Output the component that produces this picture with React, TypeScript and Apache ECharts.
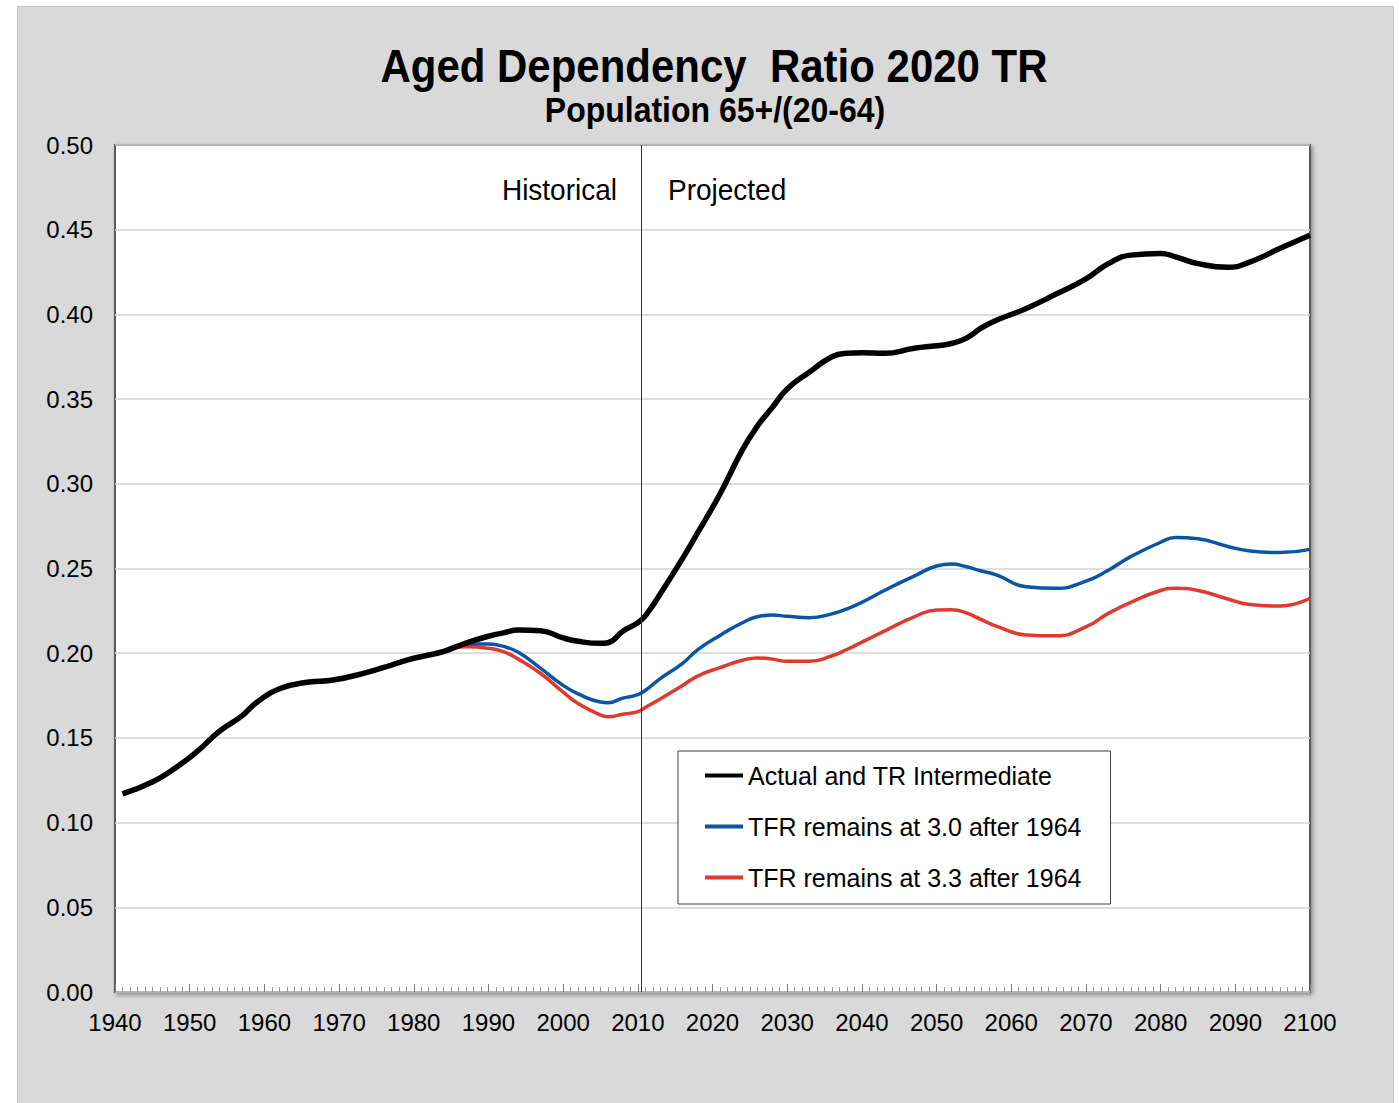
import React, { useEffect, useRef } from "react";
import * as echarts from "echarts";

const years = [
  1941, 1945, 1948, 1951, 1954, 1957, 1959, 1962, 1966, 1969, 1974, 1977, 1980, 1984,
  1987, 1990, 1992, 1994, 1997, 2000, 2002, 2005, 2006, 2008, 2010, 2011, 2013, 2016,
  2018, 2021, 2024, 2026, 2028, 2030, 2033, 2036, 2038, 2040, 2043, 2047, 2050, 2052,
  2054, 2056, 2058, 2062, 2066, 2070, 2073, 2076, 2080, 2082, 2085, 2089, 2092, 2096, 2100,
];

const actualTR = [
  0.117, 0.124, 0.132, 0.142, 0.154, 0.163, 0.171, 0.179, 0.183, 0.184, 0.189, 0.193, 0.197, 0.201,
  0.206, 0.21, 0.212, 0.2137, 0.2133, 0.209, 0.207, 0.2058, 0.2062, 0.213, 0.218, 0.222, 0.235, 0.256,
  0.271, 0.294, 0.32, 0.334, 0.345, 0.356, 0.366, 0.375, 0.377, 0.3773, 0.377, 0.38, 0.3815, 0.3828,
  0.386, 0.392, 0.3965, 0.4035, 0.412, 0.421, 0.43, 0.435, 0.436, 0.434, 0.43, 0.4278, 0.431, 0.439, 0.4467,
];

const tfr30 = [
  null, null, null, null, null, null, null, null, null, null, null, null, null, 0.201,
  0.2055, 0.2054, 0.204, 0.2005, 0.191, 0.181, 0.176, 0.1712, 0.1708, 0.1735, 0.1755, 0.178, 0.185, 0.194,
  0.202, 0.2105, 0.218, 0.2215, 0.2225, 0.2218, 0.221, 0.2232, 0.2262, 0.23, 0.237, 0.2455, 0.2515, 0.2527,
  0.251, 0.2485, 0.2462, 0.2392, 0.2383, 0.2425, 0.249, 0.257, 0.2655, 0.2683, 0.2675, 0.263, 0.2603, 0.2594, 0.2613,
];

const tfr33 = [
  null, null, null, null, null, null, null, null, null, null, null, null, null, 0.201,
  0.2038, 0.2029, 0.2009, 0.1965, 0.188, 0.177, 0.1703, 0.1635, 0.1625, 0.164, 0.1655, 0.168, 0.173, 0.181,
  0.1865, 0.1915, 0.1958, 0.1972, 0.1965, 0.1952, 0.1952, 0.1985, 0.2022, 0.2065, 0.213, 0.2215, 0.2255, 0.2257,
  0.2238, 0.2198, 0.216, 0.2108, 0.2103, 0.2155, 0.2235, 0.23, 0.237, 0.2383, 0.237, 0.232, 0.2287, 0.2278, 0.2324,
];

const seriesNames = [
  "Actual and TR Intermediate",
  "TFR remains at 3.0 after 1964",
  "TFR remains at 3.3 after 1964",
];

const dividerYear = 2010.5;
const FONT = '"Liberation Sans", Arial, Helvetica, sans-serif';

function pairs(vals: (number | null)[]) {
  return years.map((y, i) => [y, vals[i]]);
}

export default function App() {
  const ref = useRef<HTMLDivElement>(null);

  useEffect(() => {
    if (!ref.current) return;
    const chart = echarts.init(ref.current, undefined, { renderer: "svg" });
    chart.setOption({
      animation: false,
      backgroundColor: "transparent",
      textStyle: { fontFamily: FONT },
      grid: {
        left: 115,
        top: 145,
        width: 1195,
        height: 847,
        show: true,
        backgroundColor: "#ffffff",
        borderColor: "#5a5a5a",
        borderWidth: 2,
        shadowColor: "rgba(0,0,0,0.35)",
        shadowBlur: 4,
        shadowOffsetX: 2,
        shadowOffsetY: 2,
      },
      legend: {
        data: seriesNames,
        orient: "vertical",
        left: 678,
        top: 751,
        padding: [12, 29, 14, 27],
        itemGap: 26,
        itemWidth: 38,
        itemHeight: 4,
        icon: "rect",
        backgroundColor: "#ffffff",
        borderColor: "#3f3f3f",
        borderWidth: 1,
        textStyle: { fontFamily: FONT, fontSize: 25, color: "#000000" },
      },
      xAxis: {
        type: "value",
        min: 1940,
        max: 2100,
        interval: 10,
        axisLine: { show: false },
        axisTick: { show: true, inside: true, length: 8, lineStyle: { color: "#7a7a7a", width: 1 } },
        minorTick: { show: true, splitNumber: 10, length: 5, lineStyle: { color: "#9a9a9a", width: 1 } },
        splitLine: { show: false },
        axisLabel: {
          fontFamily: FONT,
          fontSize: 24,
          color: "#000000",
          margin: 18,
          formatter: (v: number) => String(v),
        },
      },
      yAxis: {
        type: "value",
        min: 0,
        max: 0.5,
        interval: 0.05,
        axisLine: { show: false },
        axisTick: { show: false },
        splitLine: { show: true, lineStyle: { color: "#d3d3d3", width: 1.5 } },
        axisLabel: {
          fontFamily: FONT,
          fontSize: 24,
          color: "#000000",
          margin: 22,
          formatter: (v: number) => v.toFixed(2),
        },
      },
      graphic: [
        {
          type: "text",
          x: 714,
          y: 66,
          scaleY: 1.1,
          style: {
            text: "Aged Dependency  Ratio 2020 TR",
            font: `bold 42px ${FONT}`,
            fill: "#000000",
            textAlign: "center",
            textVerticalAlign: "middle",
          },
        },
        {
          type: "text",
          x: 715,
          y: 110,
          scaleY: 1.1,
          style: {
            text: "Population 65+/(20-64)",
            font: `bold 32px ${FONT}`,
            fill: "#000000",
            textAlign: "center",
            textVerticalAlign: "middle",
          },
        },
        {
          type: "text",
          x: 617,
          y: 190,
          z: 10,
          scaleY: 1.08,
          style: {
            text: "Historical",
            font: `28px ${FONT}`,
            fill: "#000000",
            textAlign: "right",
            textVerticalAlign: "middle",
          },
        },
        {
          type: "text",
          x: 668,
          y: 190,
          z: 10,
          scaleY: 1.08,
          style: {
            text: "Projected",
            font: `28px ${FONT}`,
            fill: "#000000",
            textAlign: "left",
            textVerticalAlign: "middle",
          },
        },
      ],
      series: [
        {
          name: seriesNames[0],
          type: "line",
          data: pairs(actualTR),
          z: 4,
          smooth: 0.5,
          showSymbol: false,
          symbol: "none",
          color: "#000000",
          lineStyle: { color: "#000000", width: 5.5 },
          markLine: {
            silent: true,
            symbol: "none",
            label: { show: false },
            lineStyle: { color: "#333333", width: 1, type: "solid" },
            data: [{ xAxis: dividerYear }],
          },
        },
        {
          name: seriesNames[1],
          type: "line",
          data: pairs(tfr30),
          z: 3,
          smooth: 0.5,
          showSymbol: false,
          symbol: "none",
          color: "#0b56a2",
          lineStyle: { color: "#0b56a2", width: 3.5 },
        },
        {
          name: seriesNames[2],
          type: "line",
          data: pairs(tfr33),
          z: 2,
          smooth: 0.5,
          showSymbol: false,
          symbol: "none",
          color: "#df3a2f",
          lineStyle: { color: "#df3a2f", width: 3.5 },
        },
      ],
    });
    return () => chart.dispose();
  }, []);

  return (
    <div
      style={{
        position: "fixed",
        left: 0,
        top: 0,
        width: 1399,
        height: 1103,
        background: "#ffffff",
        overflow: "hidden",
      }}
    >
      <div
        style={{
          position: "absolute",
          left: 17,
          top: 6,
          width: 1377,
          height: 1110,
          background: "#d9d9d9",
          border: "1px solid #c4c4c4",
          boxSizing: "border-box",
        }}
      />
      <div
        ref={ref}
        style={{ position: "absolute", left: 0, top: 0, width: 1399, height: 1103 }}
      />
    </div>
  );
}
